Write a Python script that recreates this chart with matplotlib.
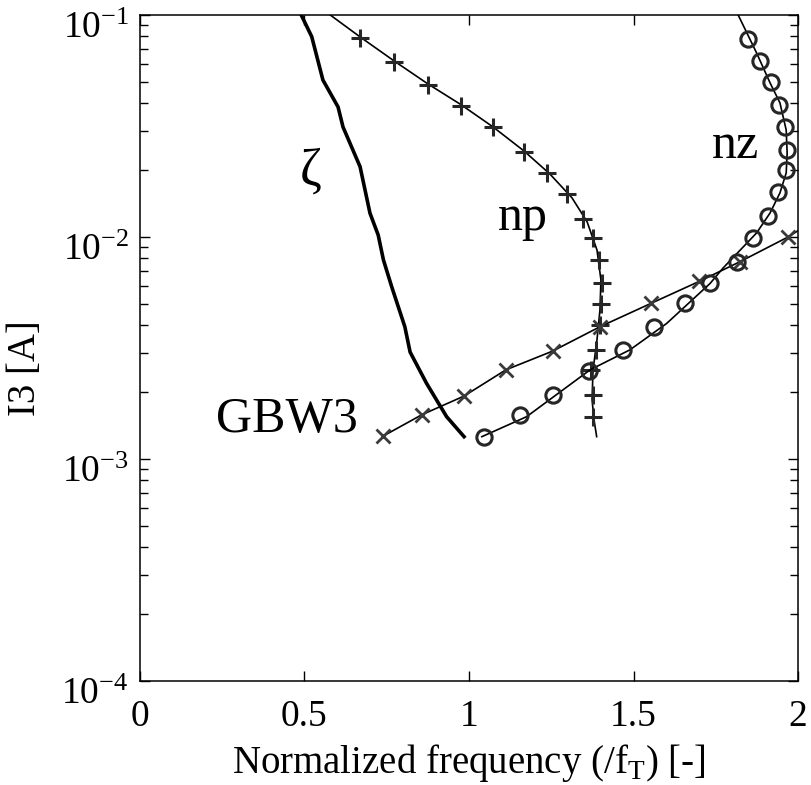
import numpy as np
import matplotlib.pyplot as plt
from matplotlib.transforms import ScaledTranslation

plt.rcParams['font.family'] = ['Liberation Serif', 'DejaVu Serif']
plt.rcParams['mathtext.fontset'] = 'custom'
plt.rcParams['mathtext.rm'] = 'Liberation Serif'

# Curva zeta (linea gruesa)
zeta_f = [0.49, 0.522, 0.556, 0.602, 0.617, 0.669, 0.699, 0.724, 0.740, 0.765, 0.805, 0.821, 0.871, 0.932, 0.985]
zeta_i = [0.1, 0.0798, 0.0509, 0.0385, 0.0313, 0.0207, 0.0128, 0.0102, 0.00787, 0.00597, 0.00394, 0.00303, 0.00219, 0.00155, 0.00126]

# np: puntos (+) y curva
np_f = [0.669, 0.772, 0.874, 0.976, 1.072, 1.167, 1.236, 1.298, 1.347, 1.378, 1.396, 1.403, 1.401, 1.398, 1.386, 1.371, 1.376, 1.376]
np_i = [0.0785, 0.0612, 0.0484, 0.0390, 0.0312, 0.0242, 0.0195, 0.0156, 0.0121, 0.00986, 0.00787, 0.00618, 0.00499, 0.00402, 0.00310, 0.00252, 0.00194, 0.00155]
np_line_f = [0.578, 0.669, 0.772, 0.875, 0.976, 1.073, 1.167, 1.246, 1.313, 1.359, 1.389, 1.401, 1.398, 1.389, 1.377, 1.374, 1.380, 1.388]
np_line_i = [0.1, 0.0796, 0.0621, 0.0489, 0.0394, 0.0313, 0.0244, 0.0192, 0.0150, 0.0117, 0.00873, 0.00640, 0.00469, 0.00344, 0.00252, 0.00185, 0.00150, 0.00126]

# GBW3: puntos (x) y curva
gbw_f = [0.740, 0.856, 0.985, 1.112, 1.254, 1.398, 1.553, 1.699, 1.824, 1.970]
gbw_i = [0.00127, 0.00158, 0.00192, 0.00252, 0.00306, 0.00394, 0.00502, 0.00630, 0.00774, 0.0100]
gbw_line_f = gbw_f + [2.0]
gbw_line_i = gbw_i + [0.01067]

# nz: puntos (o) y curva
nz_f = [1.046, 1.155, 1.254, 1.366, 1.469, 1.562, 1.657, 1.731, 1.814, 1.863, 1.910, 1.940, 1.962, 1.966, 1.960, 1.942, 1.917, 1.884, 1.849]
nz_i = [0.00126, 0.00158, 0.00195, 0.00249, 0.00310, 0.00394, 0.00502, 0.00618, 0.00774, 0.00989, 0.01245, 0.0160, 0.0200, 0.0247, 0.0314, 0.0394, 0.0501, 0.0617, 0.0778]
nz_line_f = [1.039, 1.175, 1.368, 1.489, 1.601, 1.733, 1.772, 1.874, 1.915, 1.945, 1.964, 1.967, 1.964, 1.945, 1.915, 1.874, 1.818]
nz_line_i = [0.00126, 0.00155, 0.00252, 0.00310, 0.00408, 0.00618, 0.00724, 0.01042, 0.01282, 0.01578, 0.01941, 0.02388, 0.03034, 0.04018, 0.04943, 0.06745, 0.1]

xticks = [0, 0.5, 1, 1.5, 2]
xtick_labels = ['0', '0.5', '1', '1.5', '2']
yticks = [1e-4, 1e-3, 1e-2, 1e-1]
ytick_labels = [r'$\mathregular{10^{-4}}$', r'$\mathregular{10^{-3}}$', r'$\mathregular{10^{-2}}$', r'$\mathregular{10^{-1}}$']

fig = plt.figure(figsize=(8.11, 7.85), dpi=100)
ax = fig.add_axes([0.1726, 0.1325, 0.8114, 0.8485])

mc = '#262626'
ax.plot(zeta_f, zeta_i, color='k', lw=2.6)
ax.plot(np_line_f, np_line_i, color='k', lw=1.2)
ax.plot(np_f, np_i, ls='none', marker='+', ms=13, mew=2.2, color=mc)
ax.plot(gbw_line_f, gbw_line_i, color='k', lw=1.2)
ax.plot(gbw_f, gbw_i, ls='none', marker='x', ms=10, mew=2.0, color='#3a3a3a')
ax.plot(nz_line_f, nz_line_i, color='k', lw=1.2)
ax.plot(nz_f, nz_i, ls='none', marker='o', ms=11, mew=2.2, mfc='none', mec=mc)

# Etiquetas de las curvas
ax.text(0.52, 0.0198, r'ζ', fontsize=38, ha='center', va='center')
ax.text(1.088, 0.01075, 'np', fontsize=36, ha='left', va='baseline')
ax.text(1.738, 0.0226, 'nz', fontsize=36, ha='left', va='baseline')
ax.text(0.663, 0.001324, 'GBW3', fontsize=36, ha='right', va='baseline')

ax.set_yscale('log')
ax.set_xlim(0, 2)
ax.set_ylim(1e-4, 1e-1)
ax.set_xticks(xticks)
ax.set_xticklabels(xtick_labels)
ax.set_yticks(yticks)
ax.set_yticklabels(ytick_labels)
ax.tick_params(which='both', direction='in', top=True, right=True, labelsize=27, width=1.0)
ax.tick_params(which='major', length=7)
ax.tick_params(which='minor', length=6)
ax.tick_params(axis='x', pad=13)
ax.tick_params(axis='y', pad=8)
for sp in ax.spines.values():
    sp.set_linewidth(1.1)

for lab in ax.get_yticklabels():
    lab.set_transform(lab.get_transform() + ScaledTranslation(0, -0.1, fig.dpi_scale_trans))

ax.set_xlabel('Normalized frequency (/f$_\\mathregular{T}$) [-]', fontsize=28, labelpad=6)
ax.set_ylabel('I3 [A]', fontsize=28)
ax.yaxis.set_label_coords(-0.146, 0.47)

plt.savefig('out.png', dpi=100)
